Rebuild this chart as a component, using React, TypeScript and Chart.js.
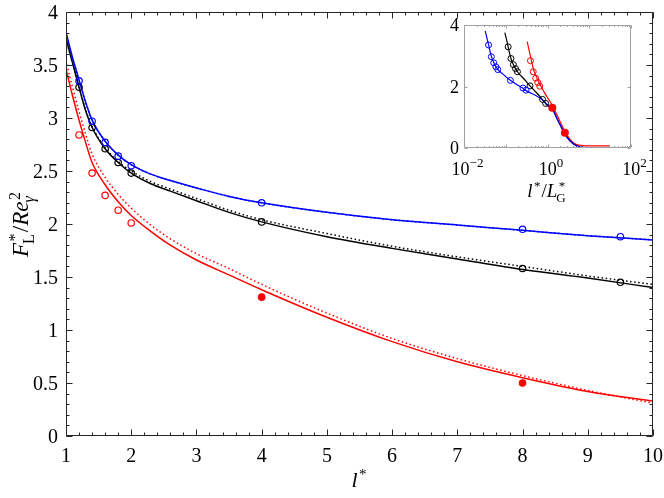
import { useEffect, useRef } from "react"
import { Chart, registerables } from "chart.js"

Chart.register(...registerables)

const FONT = '"Liberation Serif", "DejaVu Serif", serif'

// simulation points (l*)
const simL = [1.2, 1.4, 1.6, 1.8, 2, 4, 8, 9.5]
const blueSim = [3.35, 2.97, 2.77, 2.64, 2.55, 2.2, 1.95, 1.88]
const blackSim = [3.29, 2.91, 2.71, 2.58, 2.48, 2.02, 1.58, 1.45]
const redOpenL = [1.2, 1.4, 1.6, 1.8, 2]
const redOpen = [2.84, 2.48, 2.27, 2.13, 2.01]
const redFilledL = [4, 8]
const redFilled = [1.31, 0.5]

// fitted (solid) and model (dotted) curves
const curveL = [1, 1.1, 1.2, 1.3, 1.4, 1.6, 1.8, 2, 2.3, 2.6, 3, 3.5, 4, 5, 6, 7, 8, 9, 10]
const blueFit = [3.81, 3.57, 3.36, 3.15, 2.98, 2.78, 2.65, 2.56, 2.47, 2.41, 2.34, 2.26, 2.2, 2.11, 2.04, 1.99, 1.94, 1.89, 1.85]
const blueModel = [3.81, 3.57, 3.36, 3.15, 2.98, 2.78, 2.65, 2.56, 2.47, 2.41, 2.34, 2.26, 2.2, 2.11, 2.04, 1.99, 1.94, 1.89, 1.85]
const blackFit = [3.75, 3.52, 3.29, 3.07, 2.91, 2.71, 2.58, 2.48, 2.38, 2.31, 2.22, 2.11, 2.02, 1.88, 1.77, 1.67, 1.57, 1.49, 1.4]
const blackModel = [3.74, 3.52, 3.3, 3.08, 2.92, 2.72, 2.59, 2.5, 2.4, 2.33, 2.24, 2.13, 2.04, 1.91, 1.79, 1.69, 1.6, 1.51, 1.43]
const redFit = [3.46, 3.21, 2.98, 2.77, 2.58, 2.37, 2.21, 2.08, 1.93, 1.8, 1.66, 1.52, 1.38, 1.12, 0.89, 0.7, 0.55, 0.42, 0.33]
const redModel = [3.54, 3.29, 3.06, 2.85, 2.66, 2.44, 2.28, 2.15, 1.99, 1.86, 1.72, 1.58, 1.43, 1.16, 0.92, 0.73, 0.57, 0.43, 0.31]

// inset: l*/L_G*, one L_G* per case, plus the tails beyond l* = 10
const lgBlue = 31
const lgBlack = 10.5
const lgRed = 3.07
const blueTailX = [0.65, 1.0, 1.3, 1.8, 2.5, 3.4, 5, 7]
const blueTailY = [1.63, 1.41, 1.27, 0.88, 0.5, 0.24, 0.07, 0.02]
const blackTailX = [1.3, 1.8, 2.5, 3.4, 5, 7, 10]
const blackTailY = [1.27, 0.88, 0.5, 0.24, 0.07, 0.02, 0]
const redTailX = [4, 5, 7, 12, 31]
const redTailY = [0.19, 0.11, 0.08, 0.07, 0.07]

const xTickLabels = ["1", "2", "3", "4", "5", "6", "7", "8", "9", "10"]
const yTickLabels = ["0", "0.5", "1", "1.5", "2", "2.5", "3", "3.5", "4"]
const insetYTicks = ["0", "2", "4"]
const insetXExp = ["−2", "0", "2"]

type Pt = { x: number; y: number }
type Piece = { t: string; italic?: boolean; sup?: string; sub?: string; subItalic?: boolean }

const pts = (xs: number[], ys: number[], k = 1): Pt[] => xs.map((x, i) => ({ x: x / k, y: ys[i] }))

const steps = (a: number, b: number, s: number) => {
  const out: number[] = []
  for (let v = a; v <= b + 1e-9; v += s) out.push(+v.toFixed(4))
  return out
}

function drawRich(ctx: CanvasRenderingContext2D, pieces: Piece[], x: number, y: number, size: number, supRaise = 0.36) {
  const f = (it: boolean, s: number) => `${it ? "italic " : ""}${s}px ${FONT}`
  const ss = Math.round(size * 0.7)
  const widths = pieces.map((p) => {
    ctx.font = f(!!p.italic, size)
    const w = ctx.measureText(p.t).width
    let sw = 0
    if (p.sup) {
      ctx.font = f(false, ss)
      sw = Math.max(sw, ctx.measureText(p.sup).width + (p.italic ? 1.5 : 0))
    }
    if (p.sub) {
      ctx.font = f(!!p.subItalic, ss)
      sw = Math.max(sw, ctx.measureText(p.sub).width)
    }
    return [w, sw ? sw + 1 : 0]
  })
  const total = widths.reduce((a, [w, s]) => a + w + s, 0)
  let cx = x - total / 2
  ctx.textAlign = "left"
  ctx.textBaseline = "alphabetic"
  ctx.fillStyle = "#000"
  pieces.forEach((p, i) => {
    ctx.font = f(!!p.italic, size)
    ctx.fillText(p.t, cx, y)
    cx += widths[i][0]
    if (p.sup) {
      ctx.font = f(false, ss)
      ctx.fillText(p.sup, cx + (p.italic ? 1.5 : 0), y - size * supRaise)
    }
    if (p.sub) {
      ctx.font = f(!!p.subItalic, ss)
      ctx.fillText(p.sub, cx - (p.italic ? 1 : 0), y + size * 0.24)
    }
    cx += widths[i][1]
  })
}

type Frame = {
  color: string
  xMajor: number[]
  xMinor: number[]
  yMajor: number[]
  yMinor: number[]
  majorLen: number
  minorLen: number
  labels: (chart: Chart) => void
}

const framePlugin = (f: Frame) => ({
  id: "frame",
  afterDraw(chart: Chart) {
    const { ctx, chartArea: a, scales } = chart
    const xs = scales.x
    const ys = scales.y
    const L = Math.round(a.left) + 0.5
    const R = Math.round(a.right) - 0.5
    const T = Math.round(a.top) + 0.5
    const B = Math.round(a.bottom) - 0.5
    ctx.save()
    ctx.strokeStyle = f.color
    ctx.lineWidth = 1
    ctx.beginPath()
    ctx.rect(L, T, R - L, B - T)
    const xt = (v: number, len: number) => {
      const p = Math.round(xs.getPixelForValue(v)) + 0.5
      ctx.moveTo(p, B)
      ctx.lineTo(p, B - len)
      ctx.moveTo(p, T)
      ctx.lineTo(p, T + len)
    }
    const yt = (v: number, len: number) => {
      const p = Math.round(ys.getPixelForValue(v)) + 0.5
      ctx.moveTo(L, p)
      ctx.lineTo(L + len, p)
      ctx.moveTo(R, p)
      ctx.lineTo(R - len, p)
    }
    f.xMajor.forEach((v) => xt(v, f.majorLen))
    f.xMinor.forEach((v) => xt(v, f.minorLen))
    f.yMajor.forEach((v) => yt(v, f.majorLen))
    f.yMinor.forEach((v) => yt(v, f.minorLen))
    ctx.stroke()
    ctx.restore()
    ctx.save()
    f.labels(chart)
    ctx.restore()
  },
})

const line = (data: Pt[], color: string, dotted = false, width = 1.5) => ({
  data,
  showLine: true,
  borderColor: color,
  borderWidth: width,
  borderDash: dotted ? [1.5, 2.6] : [],
  pointRadius: 0,
  cubicInterpolationMode: "monotone" as const,
  fill: false,
  order: 2,
})

const marks = (data: Pt[], color: string, filled: boolean, r: number, bw = 1.2) => ({
  data,
  showLine: false,
  pointRadius: r,
  pointBorderWidth: bw,
  pointBorderColor: color,
  pointBackgroundColor: filled ? color : "rgba(0,0,0,0)",
  borderColor: color,
  order: 0,
})

export default function App() {
  const mainRef = useRef<HTMLCanvasElement | null>(null)
  const insetRef = useRef<HTMLCanvasElement | null>(null)

  useEffect(() => {
    document.body.style.margin = "0"
    if (!mainRef.current || !insetRef.current) return

    const main = new Chart(mainRef.current, {
      type: "scatter",
      data: {
        datasets: [
          marks(pts(simL, blueSim), "#0000ff", false, 3.2),
          marks(pts(simL, blackSim), "#000000", false, 3.2),
          marks(pts(redOpenL, redOpen), "#ff0000", false, 3.2),
          marks(pts(redFilledL, redFilled), "#ff0000", true, 3.8, 0),
          line(pts(curveL, blueModel), "#0000ff", true),
          line(pts(curveL, blueFit), "#0000ff"),
          line(pts(curveL, blackModel), "#000000", true),
          line(pts(curveL, blackFit), "#000000"),
          line(pts(curveL, redModel), "#ff0000", true),
          line(pts(curveL, redFit), "#ff0000"),
        ],
      },
      options: {
        responsive: false,
        animation: false,
        events: [],
        layout: { padding: { left: 66, right: 11, top: 12, bottom: 62 } },
        plugins: { legend: { display: false }, tooltip: { enabled: false } },
        scales: {
          x: { type: "linear", min: 1, max: 10, display: false },
          y: { type: "linear", min: 0, max: 4, display: false },
        },
      },
      plugins: [
        framePlugin({
          color: "#262626",
          xMajor: steps(1, 10, 1),
          xMinor: steps(1, 10, 0.2),
          yMajor: steps(0, 4, 0.5),
          yMinor: steps(0, 4, 0.1),
          majorLen: 6,
          minorLen: 3,
          labels: (chart) => {
            const { ctx, chartArea: a, scales } = chart
            ctx.fillStyle = "#000"
            ctx.font = `20px ${FONT}`
            ctx.textBaseline = "alphabetic"
            ctx.textAlign = "center"
            xTickLabels.forEach((t, i) => {
              ctx.fillText(t, scales.x.getPixelForValue(i + 1), a.bottom + 26)
            })
            ctx.textAlign = "right"
            yTickLabels.forEach((t, i) => {
              ctx.fillText(t, a.left - 8, scales.y.getPixelForValue(i * 0.5) + 7)
            })
            drawRich(ctx, [{ t: "l", italic: true, sup: "*" }], (a.left + a.right) / 2, a.bottom + 51, 22)
            ctx.save()
            ctx.translate(28, (a.top + a.bottom) / 2)
            ctx.rotate(-Math.PI / 2)
            drawRich(
              ctx,
              [
                { t: "F", italic: true, sup: "*", sub: "L" },
                { t: "/" },
                { t: "Re", italic: true, sup: "2", sub: "γ", subItalic: true },
              ],
              0,
              0,
              23
            )
            ctx.restore()
          },
        }),
      ],
    })

    const decadeMinor: number[] = []
    for (let d = -2; d < 2; d++) for (let k = 2; k <= 9; k++) decadeMinor.push(k * Math.pow(10, d))

    const inset = new Chart(insetRef.current, {
      type: "scatter",
      data: {
        datasets: [
          marks(pts(simL, blueSim, lgBlue), "#0000ff", false, 3, 1),
          marks(pts(simL, blackSim, lgBlack), "#000000", false, 3, 1),
          marks(pts(redOpenL, redOpen, lgRed), "#ff0000", false, 3, 1),
          marks(pts(redFilledL, redFilled, lgRed), "#ff0000", true, 4, 0),
          line([...pts(curveL, blueFit, lgBlue), ...pts(blueTailX, blueTailY)], "#0000ff", false, 1.2),
          line([...pts(curveL, blackFit, lgBlack), ...pts(blackTailX, blackTailY)], "#000000", false, 1.2),
          line([...pts(curveL, redFit, lgRed), ...pts(redTailX, redTailY)], "#ff0000", false, 1.2),
        ],
      },
      options: {
        responsive: false,
        animation: false,
        events: [],
        layout: { padding: { left: 34, right: 19, top: 15, bottom: 62 } },
        plugins: { legend: { display: false }, tooltip: { enabled: false } },
        scales: {
          x: { type: "logarithmic", min: 0.01, max: 100, display: false },
          y: { type: "linear", min: 0, max: 4, display: false },
        },
      },
      plugins: [
        framePlugin({
          color: "#a0a0a0",
          xMajor: [0.01, 0.1, 1, 10, 100],
          xMinor: decadeMinor,
          yMajor: [0, 2, 4],
          yMinor: [],
          majorLen: 3,
          minorLen: 1.5,
          labels: (chart) => {
            const { ctx, chartArea: a, scales } = chart
            ctx.fillStyle = "#000"
            ctx.font = `18px ${FONT}`
            ctx.textBaseline = "alphabetic"
            ctx.textAlign = "right"
            insetYTicks.forEach((t, i) => {
              ctx.fillText(t, a.left - 5, scales.y.getPixelForValue(i * 2) + 6)
            })
            insetXExp.forEach((e, i) => {
              drawRich(ctx, [{ t: "10", sup: e }], scales.x.getPixelForValue(Math.pow(10, -2 + 2 * i)) + 4, a.bottom + 27, 18, 0.45)
            })
            drawRich(
              ctx,
              [
                { t: "l", italic: true, sup: "*" },
                { t: "/" },
                { t: "L", italic: true, sup: "*", sub: "G" },
              ],
              (a.left + a.right) / 2,
              a.bottom + 49,
              19
            )
          },
        }),
      ],
    })

    return () => {
      main.destroy()
      inset.destroy()
    }
  }, [])

  return (
    <div style={{ position: "relative", width: 664, height: 498, background: "#fff" }}>
      <canvas ref={mainRef} width={664} height={498} style={{ position: "absolute", left: 0, top: 0 }} />
      <canvas ref={insetRef} width={220} height={200} style={{ position: "absolute", left: 430, top: 10 }} />
    </div>
  )
}
